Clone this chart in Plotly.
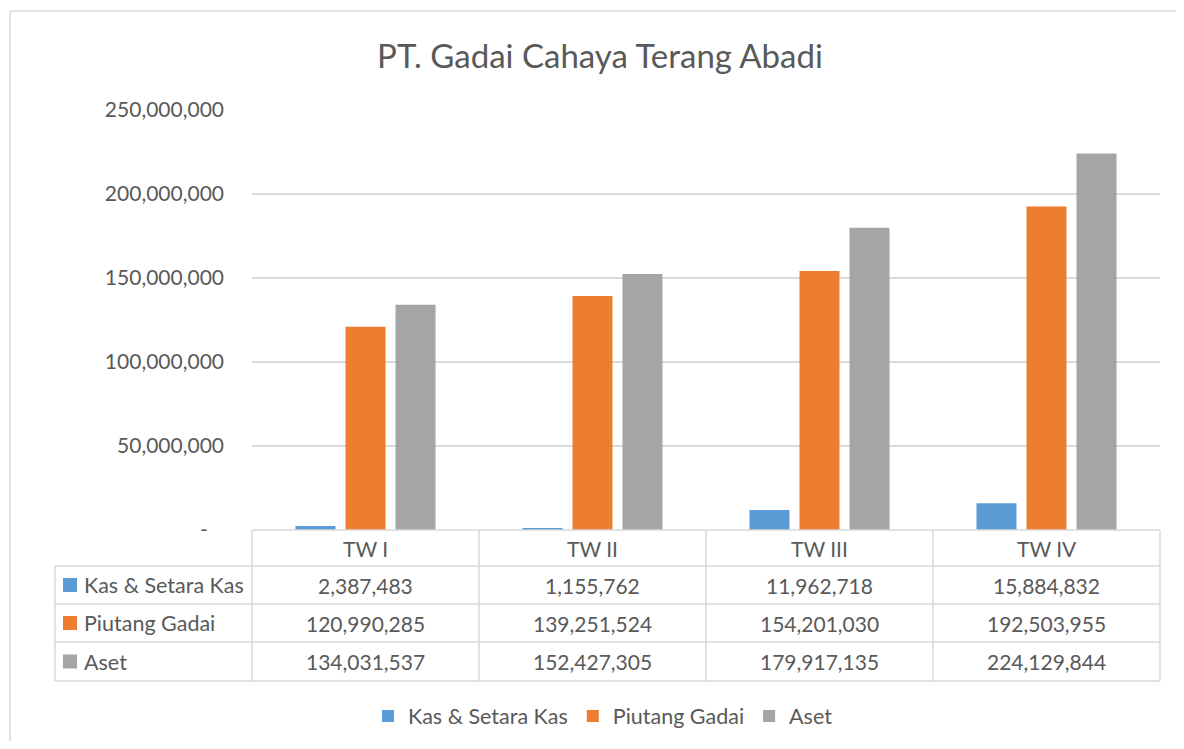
import plotly.graph_objects as go

categories = ["TW I", "TW II", "TW III", "TW IV"]
series_names = ["Kas & Setara Kas", "Piutang Gadai", "Aset"]
kas = [2387483, 1155762, 11962718, 15884832]
piutang = [120990285, 139251524, 154201030, 192503955]
aset = [134031537, 152427305, 179917135, 224129844]
colors = ["#5B9BD5", "#ED7D31", "#A5A5A5"]
y_ticks = [0, 50000000, 100000000, 150000000, 200000000, 250000000]
title_text = "PT. Gadai Cahaya Terang Abadi"

# page has an 8px body margin; keep the figure inside the 1184x749 window
OFF = 8
PAGE_W, PAGE_H = 1184, 749
W, H = PAGE_W - 2 * OFF, PAGE_H - 2 * OFF
L, R, T, B = 252, 1160, 110, 530  # plot area in page pixels
FONT = "Lato"
TXT = "#595959"
GRID = "#d9d9d9"
NUM_SIZE = 21
LBL_SIZE = 21.5


def px(x):
    return (x - L) / (R - L)


def py(y):
    return (B - y) / (B - T)


fig = go.Figure()
for name, vals, col in zip(series_names, [kas, piutang, aset], colors):
    fig.add_trace(go.Bar(x=categories, y=vals, name=name, marker=dict(color=col, line=dict(width=0))))

shapes = []
annotations = []

# outer chart border (top and left edges visible)
border = dict(color=GRID, width=1.5)
shapes.append(dict(type="line", xref="paper", yref="paper", x0=px(10), x1=px(1200), y0=py(11), y1=py(11), line=border))
shapes.append(dict(type="line", xref="paper", yref="paper", x0=px(10), x1=px(10), y0=py(11), y1=py(770), line=border))

# data table grid
col_x = [L + i * (R - L) / len(categories) for i in range(len(categories) + 1)]
row_y = [530, 566, 604, 642, 681]
line_style = dict(color=GRID, width=1.5)
for i, y in enumerate(row_y):
    x0 = L if i == 0 else 55
    shapes.append(dict(type="line", xref="paper", yref="paper", x0=px(x0), x1=px(R), y0=py(y), y1=py(y), line=line_style))
shapes.append(dict(type="line", xref="paper", yref="paper", x0=px(55), x1=px(55), y0=py(566), y1=py(681), line=line_style))
for x in col_x:
    shapes.append(dict(type="line", xref="paper", yref="paper", x0=px(x), x1=px(x), y0=py(530), y1=py(681), line=line_style))

# header
for i, c in enumerate(categories):
    cx = (col_x[i] + col_x[i + 1]) / 2
    annotations.append(dict(text=c, xref="paper", yref="paper", x=px(cx), y=py(548), xanchor="center", yanchor="middle",
                            showarrow=False, font=dict(family=FONT, size=NUM_SIZE, color=TXT)))

# rows
for r, (name, vals, col) in enumerate(zip(series_names, [kas, piutang, aset], colors)):
    yc = (row_y[r + 1] + row_y[r + 2]) / 2
    shapes.append(dict(type="rect", xref="paper", yref="paper", x0=px(63), x1=px(77), y0=py(yc - 7), y1=py(yc + 7),
                       fillcolor=col, line=dict(width=0)))
    annotations.append(dict(text=name, xref="paper", yref="paper", x=px(82), y=py(yc), xanchor="left", yanchor="middle",
                            showarrow=False, font=dict(family=FONT, size=LBL_SIZE, color=TXT)))
    for i, v in enumerate(vals):
        cx = (col_x[i] + col_x[i + 1]) / 2
        annotations.append(dict(text=f"{v:,}", xref="paper", yref="paper", x=px(cx), y=py(yc), xanchor="center",
                                yanchor="middle", showarrow=False, font=dict(family=FONT, size=NUM_SIZE, color=TXT)))

tick_text = ["-\u00a0\u00a0\u00a0" if v == 0 else f"{v:,}" for v in y_ticks]

fig.update_layout(
    width=W, height=H,
    margin=dict(l=L - OFF, r=(OFF + W) - R, t=T - OFF, b=(OFF + H) - B, autoexpand=False),
    paper_bgcolor="white", plot_bgcolor="white",
    title=dict(text=title_text, x=(600 - OFF) / W, xref="container", y=1 - (56 - OFF) / H, yref="container",
               yanchor="middle", xanchor="center",
               font=dict(family=FONT, size=33, color=TXT)),
    barmode="group", bargap=0.339, bargroupgap=0.2,
    font=dict(family=FONT, color=TXT),
    xaxis=dict(showticklabels=False, showgrid=False, zeroline=False, showline=False, ticks=""),
    yaxis=dict(range=[0, 250000000], tickvals=y_ticks, ticktext=tick_text, showgrid=True, gridcolor=GRID,
               gridwidth=1.5, zeroline=False, showline=False, ticks="", ticklabelstandoff=27,
               tickfont=dict(family=FONT, size=NUM_SIZE, color=TXT)),
    legend=dict(orientation="h", x=px(603), xanchor="center", y=py(716), yanchor="middle",
                font=dict(family=FONT, size=LBL_SIZE, color=TXT), itemwidth=30, traceorder="normal"),
    shapes=shapes, annotations=annotations,
)

fig.write_html("out.html")
